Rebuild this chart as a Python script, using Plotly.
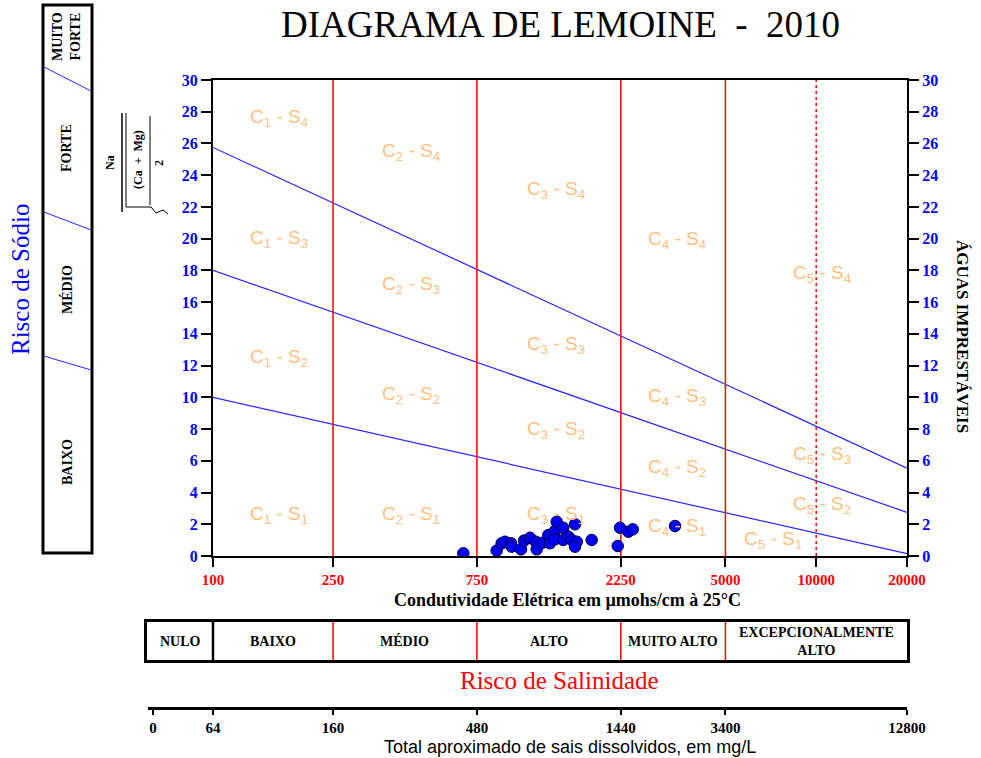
import math
import plotly.graph_objects as go

W, H = 981, 758

# --- samples: electrical conductivity (µmhos/cm at 25°C) and sodium ratio ---
ec_values = [676, 872, 906, 929, 973, 978, 1050, 1075, 1125, 1175, 1184, 1239,
             1294, 1310, 1361, 1379, 1450, 1361, 1450, 1507, 1546, 1586, 1607,
             1586, 1801, 2197, 2236, 2383, 2464, 3403]
sar_values = [0.17, 0.34, 0.80, 0.90, 0.80, 0.59, 0.42, 0.97, 1.15, 0.90, 0.42,
              0.84, 1.32, 0.80, 1.58, 2.16, 1.78, 1.05, 1.01, 1.22, 1.01, 2.00,
              0.90, 0.59, 1.01, 0.63, 1.78, 1.53, 1.68, 1.89]

# --- conductivity axis ---
ec_min, ec_max = 100, 20000
ec_ticks = [100, 250, 750, 2250, 5000, 10000, 20000]
ec_tick_text = ["100", "250", "750", "2250", "5000", "10000", "20000"]
salinity_limits = [250, 750, 2250, 5000]
salinity_dotted_limit = 10000

# --- sodium ratio axis ---
sar_max = 30
sar_ticks = list(range(0, 31, 2))

# --- sodium hazard boundaries: ratio at EC = 100 and EC = 20000 ---
boundary_ec = [100, 20000]
boundary_s1_s2 = [10.0, 0.15]
boundary_s2_s3 = [18.0, 2.75]
boundary_s3_s4 = [25.75, 5.53]

# --- class labels C(i) - S(j) ---
zone_c = [1, 2, 3, 4, 5, 1, 2, 3, 4, 5, 1, 2, 3, 4, 5, 1, 2, 3, 4, 5]
zone_s = [4] * 5 + [3] * 5 + [2] * 5 + [1] * 5
zone_ec = [165, 453, 1372, 3455, 10470,
           165, 453, 1372, 3455, 10470,
           165, 453, 1372, 3455, 10470,
           165, 453, 1372, 3455, 7190]
zone_sar = [27.6, 25.45, 23.05, 19.9, 17.75,
            20.0, 17.1, 13.3, 10.0, 6.35,
            12.5, 10.15, 7.95, 5.55, 3.2,
            2.6, 2.6, 2.6, 1.85, 1.0]

# --- salinity hazard classes (band below the chart) ---
salinity_classes = ["NULO", "BAIXO", "MÉDIO", "ALTO", "MUITO ALTO",
                    "EXCEPCIONALMENTE<br>ALTO"]
salinity_bounds = [100, 250, 750, 2250, 5000, 20000]

# --- total dissolved solids scale (mg/L) ---
tds_tick_text = ["0", "64", "160", "480", "1440", "3400", "12800"]
tds_tick_ec = [63.2, 100, 250, 750, 2250, 5000, 20000]

# --- sodium hazard classes (column on the left) ---
sodium_classes = ["MUITO<br>FORTE", "FORTE", "MÉDIO", "BAIXO"]

SERIF = "Liberation Serif, Times New Roman, serif"
SANS = "Liberation Sans, Arial, sans-serif"
NARROW = "Liberation Sans Narrow, Arial Narrow, sans-serif"


def px_x(p):
    return p / W


def px_y(p):
    return 1 - p / H


# plot area in pixels
PL, PR, PT, PB = 213, 907, 80, 556
decades = math.log10(ec_max) - math.log10(ec_min)
px_per_decade = (PR - PL) / decades


def log_range_from(left_px):
    top = math.log10(ec_max)
    return [top - (PR - left_px) / px_per_decade, top]


fig = go.Figure()

# sodium hazard boundaries
for b in (boundary_s1_s2, boundary_s2_s3, boundary_s3_s4):
    fig.add_trace(go.Scatter(x=boundary_ec, y=b, mode="lines",
                             line=dict(color="#2828FF", width=1.2),
                             hoverinfo="skip", showlegend=False))

# salinity class limits
for v in salinity_limits:
    fig.add_trace(go.Scatter(x=[v, v], y=[0, sar_max], mode="lines",
                             line=dict(color="#FF0000", width=1.5),
                             hoverinfo="skip", showlegend=False))
fig.add_trace(go.Scatter(x=[salinity_dotted_limit] * 2, y=[0, sar_max],
                         mode="lines",
                         line=dict(color="#FF0000", width=1.5, dash="dot"),
                         hoverinfo="skip", showlegend=False))

# samples
fig.add_trace(go.Scatter(x=ec_values, y=sar_values, mode="markers",
                         marker=dict(size=11.5, color="#0000FF",
                                     line=dict(color="#000033", width=1)),
                         showlegend=False))

# right-hand ratio axis carrier
fig.add_trace(go.Scatter(x=[ec_min], y=[0], yaxis="y2", mode="markers",
                         marker=dict(opacity=0), hoverinfo="skip",
                         showlegend=False))

# salinity band dividers
for i, v in enumerate(salinity_bounds[:-1]):
    fig.add_trace(go.Scatter(x=[v, v], y=[0, 1], xaxis="x3", yaxis="y3",
                             mode="lines",
                             line=dict(color="#000000" if i == 0 else "#FF0000",
                                       width=2.5 if i == 0 else 1.5),
                             hoverinfo="skip", showlegend=False))

# dissolved solids scale carrier
fig.add_trace(go.Scatter(x=[ec_min], y=[0], xaxis="x4", yaxis="y4",
                         mode="markers", marker=dict(opacity=0),
                         hoverinfo="skip", showlegend=False))

annotations = []

# class labels
for c, s, e, r in zip(zone_c, zone_s, zone_ec, zone_sar):
    annotations.append(dict(
        x=math.log10(e), y=r, xref="x", yref="y", showarrow=False,
        text=f"C<sub>{c}</sub> - S<sub>{s}</sub>",
        font=dict(family=SANS, size=19, color="#FFC080")))

# salinity band labels
band_left = 10 ** log_range_from(147)[0]
edges = [band_left] + salinity_bounds
for name, a, b in zip(salinity_classes, edges[:-1], edges[1:]):
    annotations.append(dict(
        x=(math.log10(a) + math.log10(b)) / 2, y=0.5, xref="x3", yref="y3",
        showarrow=False, text=name,
        font=dict(family=SERIF, size=14, color="black", weight="bold")))

# titles and captions
annotations += [
    dict(x=px_x(560), y=px_y(25), text="DIAGRAMA DE LEMOINE  -  2010",
         font=dict(family=SERIF, size=37, color="black")),
    dict(x=px_x(567), y=px_y(600),
         text="Condutividade Elétrica em µmohs/cm à 25°C",
         font=dict(family=SERIF, size=18, color="black", weight="bold")),
    dict(x=px_x(559), y=px_y(680), text="Risco de Salinidade",
         font=dict(family=SERIF, size=25, color="#FF0000")),
    dict(x=px_x(570), y=px_y(747),
         text="Total aproximado de sais dissolvidos, em mg/L",
         font=dict(family=NARROW, size=18, color="black")),
    dict(x=px_x(20), y=px_y(280), text="Risco de Sódio", textangle=-90,
         font=dict(family=SERIF, size=25, color="#0000FF")),
    dict(x=px_x(963), y=px_y(336), text="ÁGUAS IMPRESTÁVEIS", textangle=90,
         font=dict(family=SERIF, size=17, color="black", weight="bold")),
    # sodium ratio formula
    dict(x=px_x(110), y=px_y(163), text="Na", textangle=-90,
         font=dict(family=SERIF, size=12, color="black", weight="bold")),
    dict(x=px_x(138), y=px_y(160), text="(Ca  +  Mg)", textangle=-90,
         font=dict(family=SERIF, size=12, color="black", weight="bold")),
    dict(x=px_x(159), y=px_y(163), text="2", textangle=-90,
         font=dict(family=SERIF, size=12, color="black", weight="bold")),
]

# sodium hazard column labels
for name, cy in zip(sodium_classes, [37, 148, 290, 462]):
    annotations.append(dict(
        x=px_x(67), y=px_y(cy), text=name, textangle=-90,
        font=dict(family=SERIF, size=14, color="black", weight="bold")))

for a in annotations:
    a.setdefault("showarrow", False)
    a.setdefault("xref", "paper")
    a.setdefault("yref", "paper")
    a.setdefault("xanchor", "center")
    a.setdefault("yanchor", "middle")

shapes = [
    # sodium hazard column frame
    dict(type="rect", xref="paper", yref="paper",
         x0=px_x(43), x1=px_x(92), y0=px_y(553), y1=px_y(5),
         line=dict(color="black", width=3)),
]
for yl, yr in [(67, 91), (212, 230), (356, 370)]:
    shapes.append(dict(type="line", xref="paper", yref="paper",
                       x0=px_x(44), y0=px_y(yl), x1=px_x(91), y1=px_y(yr),
                       line=dict(color="#2828FF", width=1)))
# formula strokes: fraction bar, radical and inner bar
shapes += [
    dict(type="line", xref="paper", yref="paper", x0=px_x(122), x1=px_x(122),
         y0=px_y(113), y1=px_y(212), line=dict(color="black", width=1.5)),
    dict(type="line", xref="paper", yref="paper", x0=px_x(126), x1=px_x(126),
         y0=px_y(113), y1=px_y(207), line=dict(color="black", width=1)),
    dict(type="line", xref="paper", yref="paper", x0=px_x(150), x1=px_x(150),
         y0=px_y(116), y1=px_y(205), line=dict(color="black", width=1)),
    dict(type="path", xref="paper", yref="paper",
         path=(f"M {px_x(126)} {px_y(207)} L {px_x(151)} {px_y(207)} "
               f"L {px_x(156)} {px_y(213)} L {px_x(163)} {px_y(210)} "
               f"L {px_x(168)} {px_y(214)}"),
         line=dict(color="black", width=1)),
]

common_y = dict(range=[0, sar_max], tickmode="array", tickvals=sar_ticks,
                ticks="outside", ticklen=10, tickwidth=1.5, tickcolor="black",
                tickfont=dict(family=SERIF, size=16, color="#0000FF",
                              weight="bold"),
                showline=True, linecolor="black", linewidth=2,
                showgrid=False, zeroline=False, fixedrange=True)

fig.update_layout(
    width=W, height=H, template="none",
    margin=dict(l=0, r=0, t=0, b=0),
    paper_bgcolor="white", plot_bgcolor="rgba(0,0,0,0)",
    showlegend=False,
    xaxis=dict(domain=[px_x(PL), px_x(PR)], anchor="y", type="log",
               range=[math.log10(ec_min), math.log10(ec_max)],
               tickmode="array", tickvals=ec_ticks, ticktext=ec_tick_text,
               ticks="outside", ticklen=9, tickwidth=1.5, tickcolor="black",
               tickfont=dict(family=SERIF, size=15, color="#FF0000",
                             weight="bold"),
               showline=True, linecolor="black", linewidth=2, mirror=True,
               showgrid=False, zeroline=False, automargin=False),
    yaxis=dict(domain=[px_y(PB), px_y(PT)], anchor="x", side="left",
               automargin=False, **common_y),
    yaxis2=dict(overlaying="y", anchor="x", side="right", automargin=False,
                **common_y),
    xaxis3=dict(domain=[px_x(147), px_x(PR)], anchor="y3", type="log",
                range=log_range_from(147), showticklabels=False, ticks="",
                showline=True, linecolor="black", linewidth=3, mirror=True,
                showgrid=False, zeroline=False, automargin=False),
    yaxis3=dict(domain=[px_y(660), px_y(622)], anchor="x3", range=[0, 1],
                showticklabels=False, ticks="", showline=True,
                linecolor="black", linewidth=3, mirror=True, showgrid=False,
                zeroline=False, automargin=False),
    xaxis4=dict(domain=[px_x(148), px_x(PR)], anchor="y4", type="log",
                range=log_range_from(148), tickmode="array",
                tickvals=tds_tick_ec, ticktext=tds_tick_text,
                ticks="outside", ticklen=5, tickwidth=2, tickcolor="black",
                tickfont=dict(family=SERIF, size=15, color="black",
                              weight="bold"),
                showline=True, linecolor="black", linewidth=3,
                showgrid=False, zeroline=False, automargin=False),
    yaxis4=dict(domain=[px_y(707), px_y(700)], anchor="x4", visible=False,
                range=[0, 1]),
    annotations=annotations,
    shapes=shapes,
)

fig.write_html("out.html")
